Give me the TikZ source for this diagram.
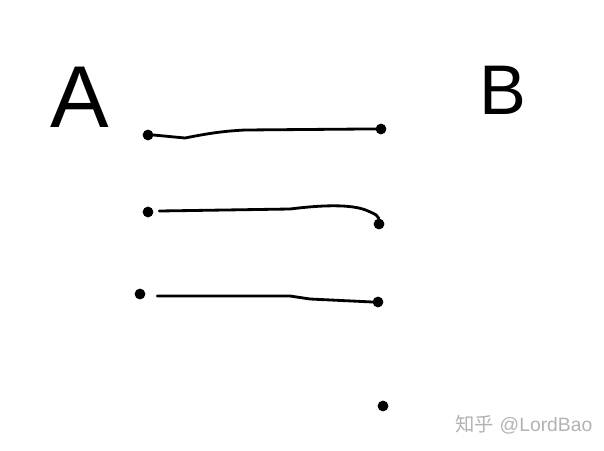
\documentclass[tikz,border=0pt]{standalone}
\usepackage{fontspec}
\setmainfont{Liberation Sans}
\newfontfamily\cjk{Noto Sans CJK SC}
\usepackage{tikz}
\usetikzlibrary{positioning}
\tikzstyle{dot} = [circle, fill=black, draw=black, inner sep=0pt, minimum size=0.2cm]
\tikzstyle{wire} = [line width=1.6pt, line cap=round]
\tikzstyle{letter} = [inner sep=0pt, font=\fontsize{50}{50}\selectfont]

\begin{document}
\begin{tikzpicture}[x=0.02cm, y=-0.02cm]
\useasboundingbox (0,0) rectangle (604,450);

% Letters
\node (A) [letter] at (80,97) {A};
\node (B) [letter, font=\fontsize{40}{40}\selectfont] at (503,90) {B};

% Dots on the left
\node (a1) [dot] at (148,135) {};
\node (a2) [dot] at (148,212) {};
\node (a3) [dot] at (140,294) {};

% Dots on the right
\node (b1) [dot] at (381,129) {};
\node (b2) [dot] at (379,224) {};
\node (b3) [dot] at (378,302) {};
\node (b4) [dot] at (383,406) {};

% Wires
\draw [wire] (a1.east) -- (185,138) .. controls (210,133) and (225,131) .. (245,130) -- (365,129) -- (b1.west);
\draw [wire] (a2.east) ++(6,-1) -- (290,209) .. controls (330,204) and (355,205) .. (368,211) .. controls (377,215) .. (b2.north);
\draw [wire] (a3.east) ++(12,2) -- (290,296) -- (310,299) -- (b3.west);

% Watermark
\node (mark) [text=black!30, font=\fontsize{11}{11}\selectfont] at (524,425) {{\cjk 知乎} @LordBao};

\end{tikzpicture}
\end{document}
